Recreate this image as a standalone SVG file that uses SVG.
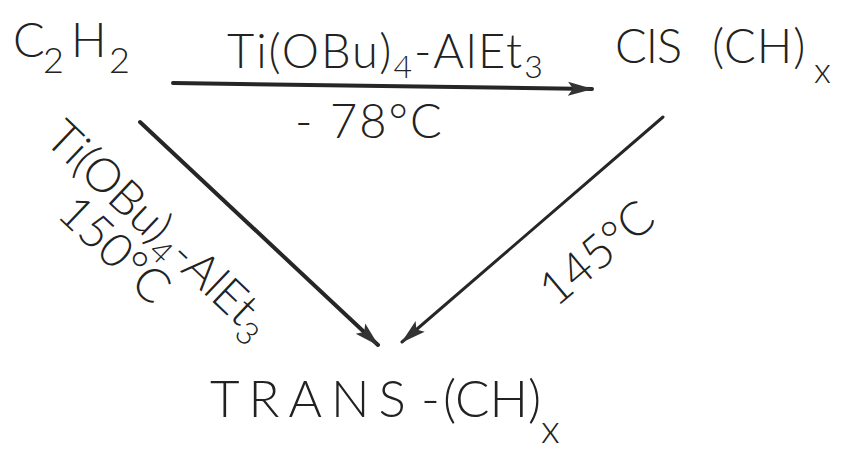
<svg xmlns="http://www.w3.org/2000/svg" width="850" height="460" viewBox="0 0 850 460">
<style>
text{font-family:Lato,"Liberation Sans","DejaVu Sans",sans-serif;font-weight:300;fill:#222;}
.big{font-size:47px;}
.sub{font-size:32px;}
.conn{stroke:#262626;fill:none;stroke-linecap:round;}
</style>
<defs>
<marker id="ah" markerUnits="userSpaceOnUse" markerWidth="28" markerHeight="16" refX="24" refY="7" orient="auto" viewBox="0 0 28 14">
<path d="M0,0 L25,7 L0,14 L5,7 Z" fill="#333"/>
</marker>
</defs>
<rect width="850" height="460" fill="#fff"/>
<g id="c2h2">
<text class="big" y="57"><tspan x="13">C</tspan><tspan font-size="36" x="43" y="73">2</tspan><tspan x="71" y="57">H</tspan><tspan font-size="36" x="109" y="73">2</tspan></text>
</g>
<g id="cis">
<text class="big" y="63"><tspan x="615" letter-spacing="-1">CIS</tspan><tspan x="712" letter-spacing="1">(CH)</tspan><tspan font-size="36" x="814" y="83">x</tspan></text>
</g>
<g id="trans">
<text font-size="51" y="417"><tspan x="210" letter-spacing="9">TRANS</tspan><tspan x="421">-</tspan><tspan x="443">(CH)</tspan><tspan font-size="40" x="541" y="443">x</tspan></text>
</g>
<g id="connectors">
<line class="conn" x1="173" y1="83" x2="592" y2="89" stroke-width="4" marker-end="url(#ah)"/>
<line class="conn" x1="140" y1="122" x2="378" y2="345" stroke-width="4" marker-end="url(#ah)"/>
<line class="conn" x1="663" y1="117" x2="402" y2="342" stroke-width="3" marker-end="url(#ah)"/>
</g>
<g id="labels">
<text class="big" x="227" y="68" letter-spacing="2">Ti(OBu)<tspan class="sub" dy="10">4</tspan><tspan dy="-10">-AlEt</tspan><tspan class="sub" dy="10">3</tspan></text>
<text class="big" y="138"><tspan x="295">-</tspan><tspan x="330" letter-spacing="2">78°C</tspan></text>
<text class="big" transform="translate(43,141) rotate(43.5)" font-size="45">Ti(OBu)<tspan class="sub" dy="10">4</tspan><tspan dy="-10">-AlEt</tspan><tspan class="sub" dy="10">3</tspan></text>
<text class="big" transform="translate(19,181) rotate(43.5)" x="50">150°C</text>
<text class="big" transform="translate(556,308) rotate(-40)">145°C</text>
</g>
</svg>
